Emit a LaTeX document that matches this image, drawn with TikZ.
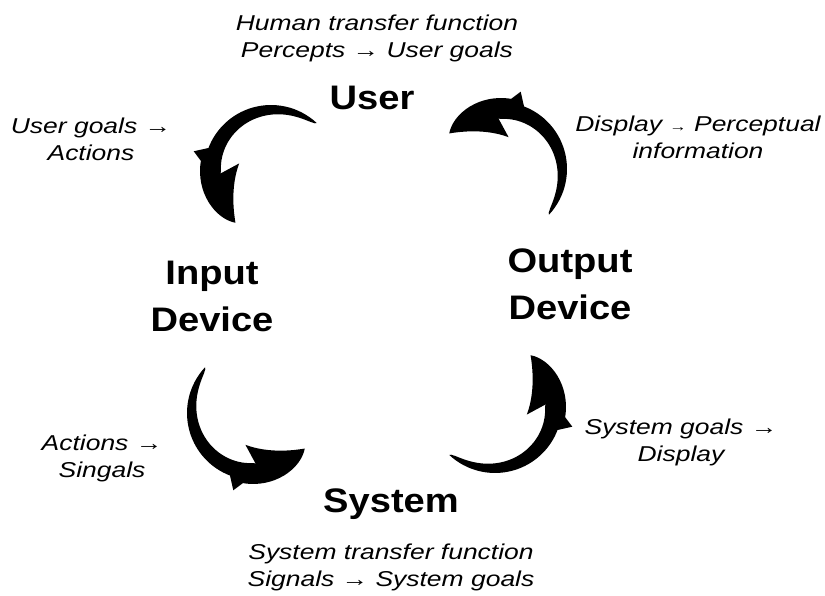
\documentclass[tikz,border=0pt]{standalone}
\usepackage{fontspec}
\usepackage{tikz}
\newfontfamily\captionfont[FakeStretch=1.23]{Liberation Sans}
\newfontfamily\stagefont[FakeStretch=1.12]{Liberation Sans}
\newcommand{\smallto}{{\fontsize{10pt}{10pt}\selectfont →}}

% tapered arrow bent round a circle, tail at 47 deg, tip at 235 deg
\tikzset{
  pics/turnarrow/.style={code={
    \fill (47:67) arc[start angle=47, end angle=159, radius=67]
      -- (165:80) -- (171:71)
      .. controls (195:78) and (220:73) .. (235:62)
      .. controls (226:54) and (200:43) .. (165:33)
      -- (182:51)
      -- plot[domain=180:48, samples=40] (\x:{67-16*sqrt((\x-47)/118)})
      -- cycle;
  }}
}

\begin{document}
\begin{tikzpicture}[
  x=0.25mm, y=0.25mm,
  stage/.style={font=\stagefont\bfseries\fontsize{24.2pt}{33.4pt}\selectfont, align=center, inner sep=0pt},
  note/.style={font=\captionfont\itshape\fontsize{15.3pt}{19.2pt}\selectfont, align=center, inner sep=0pt}
]
  \useasboundingbox (0,0) rectangle (825,596);

  % the four stages
  \node[stage, anchor=base] (user) at (372,486) {User};
  \node[stage] (indev) at (212,300) {Input\\Device};
  \node[stage] (outdev) at (570,312) {Output\\Device};
  \node[stage, anchor=base] (sys) at (391,83) {System};

  % mappings
  \node[note] (humantf) at (377,558) {Human transfer function\\Percepts → User goals};
  \node[note] (goalact) at (91,457) {User goals →\\Actions};
  \node[note] (dispperc) at (698,459) {Display \smallto\ Perceptual\\information};
  \node[note] (actsig) at (102,138) {Actions →\\Singals};
  \node[note] (sysdisp) at (681,154) {System goals →\\Display};
  \node[note] (systf) at (391,29) {System transfer function\\Signals → System goals};

  % the loop
  \pic at (271,424) {turnarrow};
  \pic[rotate=90] at (254,183) {turnarrow};
  \pic[rotate=180] at (495,190) {turnarrow};
  \pic[rotate=-90] at (500,427) {turnarrow};
\end{tikzpicture}
\end{document}
